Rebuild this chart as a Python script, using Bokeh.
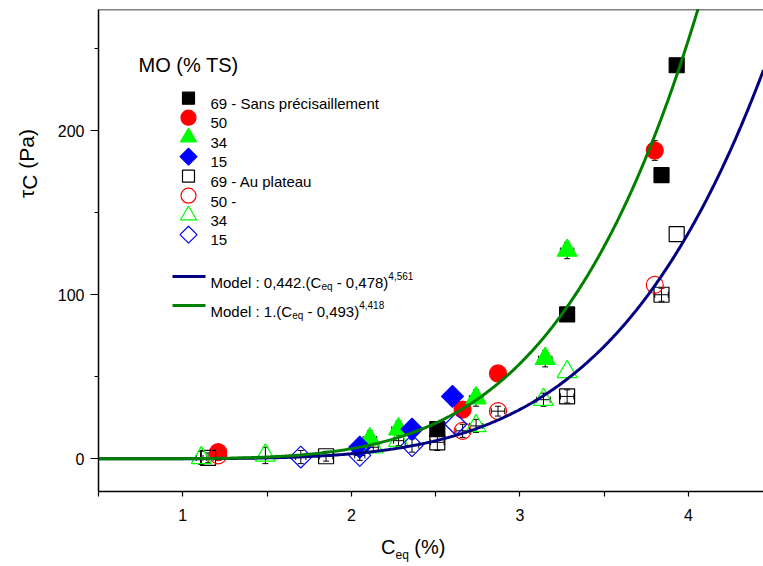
import numpy as np
from bokeh.plotting import figure
from bokeh.models import (Label, Whisker, ColumnDataSource, TeeHead, Span,
                          Range1d, FixedTicker, Div)
from bokeh.layouts import row, column
from bokeh.embed import file_html
from bokeh.resources import INLINE

# ---------------- data ----------------
# MO 69 % - Sans précisaillement (filled squares)
m69_sp_x = [2.51, 3.28, 3.84, 3.93]
m69_sp_y = [18, 88, 173, 240]
m69_sp_ex = [0, 0, 0, 0]
m69_sp_ey = [0, 0, 0, 0]
# MO 50 % - filled circles
m50_sp_x = [1.21, 2.66, 2.87, 3.80]
m50_sp_y = [4, 30, 52, 188]
m50_sp_ex = [0.04, 0.04, 0.04, 0.04]
m50_sp_ey = [4, 4, 4, 6]
# MO 34 % - filled triangles
m34_sp_x = [2.11, 2.28, 2.74, 3.15, 3.28]
m34_sp_y = [12, 18, 37, 61, 127]
m34_sp_ex = [0.04, 0.04, 0.04, 0.04, 0.04]
m34_sp_ey = [5, 5, 5, 5, 5]
# MO 15 % - filled diamonds
m15_sp_x = [2.05, 2.36, 2.60]
m15_sp_y = [7, 18, 38]
m15_sp_ex = [0.04, 0.04, 0.04]
m15_sp_ey = [5, 5, 5]
# MO 69 % - Au plateau (open squares)
m69_ap_x = [1.15, 1.85, 2.51, 3.28, 3.84, 3.93]
m69_ap_y = [0.5, 1.5, 10, 38, 100, 137]
m69_ap_ex = [0.03, 0.04, 0.04, 0.04, 0.04, 0]
m69_ap_ey = [3, 3, 5, 4, 4, 0]
# MO 50 % - open circles
m50_ap_x = [1.21, 2.66, 2.87, 3.80]
m50_ap_y = [2, 17, 29, 106]
m50_ap_ex = [0.04, 0.04, 0.04, 0]
m50_ap_ey = [3, 4, 3, 0]
# MO 34 % - open triangles
m34_ap_x = [1.11, 1.49, 2.13, 2.28, 2.74, 3.14, 3.28]
m34_ap_y = [0.5, 2, 7, 11, 20, 36, 53]
m34_ap_ex = [0.03, 0, 0.03, 0.03, 0.04, 0.04, 0]
m34_ap_ey = [4, 5, 3, 3, 4, 4, 0]
# MO 15 % - open diamonds
m15_ap_x = [1.70, 2.05, 2.36, 2.62]
m15_ap_y = [1, 2, 8, 21]
m15_ap_ex = [0.03, 0.03, 0.04, 0]
m15_ap_ey = [4, 3, 4, 0]

legend_labels = ["69 - Sans précisaillement", "50", "34", "15",
                 "69 - Au plateau", "50 -", "34", "15"]
legend_title = "MO (% TS)"

# model parameters: tau = a.(Ceq - c)^n
blue_a, blue_c, blue_n = 0.442, 0.478, 4.561
green_a, green_c, green_n = 1.0, 0.493, 4.418

x_ticks = [1, 2, 3, 4]
y_ticks = [0, 100, 200]

# ---------------- layout ----------------
X0, X1 = 0.5, 4.445
Y0, Y1 = -20, 274
YDIV_W = 40
W = 763 - YDIV_W
BL, BR, BT, BB = 58, 0, 9, 40
FH = 482
H = BT + FH + BB
XDIV_H = 566 - H
FL, FT = YDIV_W + BL, BT           # frame position on page
FW = W - BL - BR

FONT = "Liberation Sans"

p = figure(width=W, height=H, x_range=Range1d(X0, X1), y_range=Range1d(Y0, Y1),
           output_backend="svg", toolbar_location=None,
           min_border_left=BL, min_border_right=BR, min_border_top=BT,
           min_border_bottom=BB)
p.outline_line_color = None
p.grid.visible = False
p.background_fill_color = "white"
p.border_fill_color = "white"

for ax in (p.xaxis[0], p.yaxis[0]):
    ax.axis_line_color = "black"
    ax.axis_line_width = 1.5
    ax.major_tick_line_color = "black"
    ax.minor_tick_line_color = "black"
    ax.major_tick_line_width = 1.2
    ax.minor_tick_line_width = 1.2
    ax.major_tick_in = 0
    ax.minor_tick_in = 0
    ax.major_label_text_font = FONT
    ax.major_label_text_font_size = "16px"
    ax.major_label_text_color = "black"

p.xaxis.ticker = FixedTicker(ticks=x_ticks, minor_ticks=[0.5, 1.5, 2.5, 3.5, 4.5])
p.yaxis.ticker = FixedTicker(ticks=y_ticks, minor_ticks=[50, 150, 250])
p.xaxis.major_tick_out = 5
p.xaxis.minor_tick_out = 5
p.xaxis.major_label_standoff = 12
p.yaxis.major_tick_out = 8
p.yaxis.minor_tick_out = 4
p.yaxis.major_label_standoff = 6

p.add_layout(Span(location=Y1, dimension="width", line_color="black", line_width=1.5))


def dx(px):
    return X0 + (px - FL) * (X1 - X0) / FW


def dy(py):
    return Y1 - (py - FT) * (Y1 - Y0) / FH


AW = {' ': 278, ':': 278, ',': 278, '.': 278, '(': 333, ')': 333, '-': 333,
      'M': 833, 'o': 556, 'd': 556, 'e': 556, 'l': 222, 'C': 722, 'q': 556,
      '%': 889, 'P': 667, 'a': 556}


def tw(s, size):
    return sum(AW.get(c, 556) for c in s) * size / 1000.0


def txt(px, py, s, size):
    p.add_layout(Label(x=dx(px), y=dy(py), text=s, text_font=FONT,
                       text_font_size=f"{size}px", text_color="black",
                       text_align="left", text_baseline="alphabetic"))


# ---------------- series ----------------
GREEN, RED, BLUE = "#00ff00", "#ff0000", "#0000ff"
series = [
    (m69_sp_x, m69_sp_y, m69_sp_ex, m69_sp_ey, "square", 15, 0, "black", "black", 12),
    (m50_sp_x, m50_sp_y, m50_sp_ex, m50_sp_ey, "circle", 17, 0, RED, RED, 15),
    (m34_sp_x, m34_sp_y, m34_sp_ex, m34_sp_ey, "triangle", 20, 0, GREEN, GREEN, 16),
    (m15_sp_x, m15_sp_y, m15_sp_ex, m15_sp_ey, "square", 15.5, np.pi / 4, BLUE, BLUE, 12),
    (m69_ap_x, m69_ap_y, m69_ap_ex, m69_ap_ey, "square", 15, 0, None, "black", 12),
    (m50_ap_x, m50_ap_y, m50_ap_ex, m50_ap_ey, "circle", 17, 0, None, RED, 15),
    (m34_ap_x, m34_ap_y, m34_ap_ex, m34_ap_ey, "triangle", 20, 0, None, GREEN, 16),
    (m15_ap_x, m15_ap_y, m15_ap_ex, m15_ap_ey, "square", 15.5, np.pi / 4, None, BLUE, 12),
]

for (xs, ys, exs, eys, mk, sz, ang, fill, line, lsz) in series:
    p.scatter(xs, ys, marker=mk, size=sz, angle=ang,
              fill_color=fill, line_color=line, line_width=1.2)

# model curves
xx = np.linspace(X0, X1, 500)
p.line(xx, blue_a * (xx - blue_c) ** blue_n, line_color="#000080", line_width=3)
p.line(xx, green_a * (xx - green_c) ** green_n, line_color="#008000", line_width=3)

# error bars
for (xs, ys, exs, eys, mk, sz, ang, fill, line, lsz) in series:
    vi = [i for i in range(len(xs)) if eys[i] > 0]
    hi = [i for i in range(len(xs)) if exs[i] > 0]
    if vi:
        src = ColumnDataSource(dict(b=[xs[i] for i in vi],
                                    lo=[ys[i] - eys[i] for i in vi],
                                    up=[ys[i] + eys[i] for i in vi]))
        p.add_layout(Whisker(source=src, base="b", lower="lo", upper="up",
                             dimension="height", line_color="black", line_width=1,
                             upper_head=TeeHead(size=6, line_color="black", line_width=1),
                             lower_head=TeeHead(size=6, line_color="black", line_width=1)))
    if hi:
        src = ColumnDataSource(dict(b=[ys[i] for i in hi],
                                    lo=[xs[i] - exs[i] for i in hi],
                                    up=[xs[i] + exs[i] for i in hi]))
        p.add_layout(Whisker(source=src, base="b", lower="lo", upper="up",
                             dimension="width", line_color="black", line_width=1,
                             upper_head=TeeHead(size=6, line_color="black", line_width=1),
                             lower_head=TeeHead(size=6, line_color="black", line_width=1)))

# ---------------- legend (drawn by hand inside the frame) ----------------
LEG_MX, LEG_TX, LEG_Y0, LEG_DY = 188, 210, 97.7, 19.5
txt(138, 64, legend_title, 20)
for k, (lab, s) in enumerate(zip(legend_labels, series)):
    cy = LEG_Y0 + k * LEG_DY
    (_, _, _, _, mk, sz, ang, fill, line, lsz) = s
    p.scatter([dx(LEG_MX)], [dy(cy)], marker=mk, size=lsz, angle=ang,
              fill_color=fill, line_color=line, line_width=1.2)
    txt(LEG_TX, cy + 5.5, lab, 15)


def model_entry(base_y, color, a_txt, c_txt, n_txt):
    p.segment(x0=[dx(172)], y0=[dy(base_y - 6)], x1=[dx(205)], y1=[dy(base_y - 6)],
              line_color=color, line_width=3)
    x = 210
    s1 = f"Model : {a_txt}.(C"
    txt(x, base_y, s1, 15)
    x += tw(s1, 15)
    txt(x, base_y + 4, "eq", 10)
    x += tw("eq", 10) + tw(" ", 15)
    s2 = f"- {c_txt})"
    txt(x, base_y, s2, 15)
    x += tw(s2, 15)
    txt(x, base_y - 7, n_txt, 10)


model_entry(282, "#000080", "0,442", "0,478", "4,561")
model_entry(311, "#008000", "1", "0,493", "4,418")

# ---------------- axis titles (HTML, for sub-scripts) ----------------
TSTYLE = "font-family:'Liberation Sans',Arial,sans-serif;line-height:20px;color:#000;white-space:nowrap;"
x_title_html = (
    f'<div style="position:relative;width:{W}px;height:{XDIV_H}px;">'
    f'<span style="position:absolute;left:{381 - YDIV_W}px;top:{554 - H - 17}px;font-size:20px;{TSTYLE}">'
    'C<span style="font-size:12px;vertical-align:-5px;">eq</span> (%)</span></div>')
y_title_html = (
    f'<div style="position:relative;width:{YDIV_W}px;height:566px;">'
    f'<div style="position:absolute;left:17px;top:198px;transform:rotate(-90deg);'
    f'transform-origin:0 0;font-size:21px;{TSTYLE}">'
    'τ<span style="vertical-align:-3px;">C</span> (Pa)</div></div>')

xdiv = Div(text=x_title_html, width=W, height=XDIV_H, margin=0)
ydiv = Div(text=y_title_html, width=YDIV_W, height=566, margin=0)

page = row(ydiv, column(p, xdiv, spacing=0), spacing=0)

open("out.html", "w").write(file_html(page, INLINE))
